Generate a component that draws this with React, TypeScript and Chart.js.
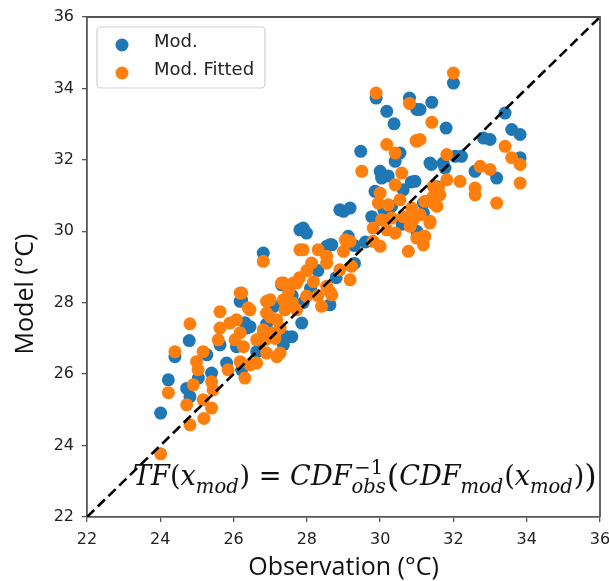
import React, { useEffect, useRef } from "react";
import { Chart, registerables } from "chart.js";

Chart.register(...registerables);

// Observation vs raw model temperatures (°C)
const modObs = [
  24.01, 24.22, 24.40, 24.79, 24.72, 24.81, 25.04, 25.40, 25.27, 25.63,
  25.81, 26.08, 26.22, 26.31, 26.72, 26.63, 26.18, 26.45, 26.81, 27.45,
  27.81, 27.90, 27.99, 26.22, 26.36, 27.86, 27.59, 27.36, 28.63, 28.63,
  28.54, 28.68, 29.13, 29.00, 29.18, 29.47, 29.89, 30.80, 31.00, 30.18,
  30.38, 30.54, 30.41, 30.00, 30.04, 30.22, 30.95, 30.85, 30.63, 31.40,
  31.72, 29.86, 30.31, 29.77, 31.18, 31.55, 32.00, 31.41, 31.80, 33.41,
  33.59, 33.82, 32.82, 33.00, 33.82, 32.59, 33.18, 32.22, 32.05, 31.36,
  31.77, 31.09, 31.18, 28.10, 27.90, 28.30, 28.80, 29.30, 29.60, 30.60,
  31.00, 30.10, 29.30, 27.31, 27.60, 26.90, 27.10, 28.90,
];
const modVal = [
  24.91, 25.84, 26.49, 26.94, 25.60, 25.37, 25.89, 26.03, 26.54, 26.82,
  26.31, 26.77, 26.12, 27.44, 26.68, 26.63, 28.04, 27.33, 29.39, 27.05,
  30.04, 30.09, 29.95, 28.08, 27.29, 27.43, 27.05, 26.82, 27.94, 29.62,
  29.58, 29.62, 29.86, 30.56, 30.65, 32.24, 33.73, 33.73, 33.41, 33.36,
  33.01, 32.19, 31.96, 31.68, 31.49, 31.55, 31.40, 31.38, 31.16, 31.87,
  31.91, 31.12, 30.70, 30.41, 30.79, 31.25, 34.15, 33.61, 32.89, 33.31,
  32.85, 32.71, 32.61, 32.57, 32.06, 31.68, 31.49, 32.10, 32.10, 31.91,
  31.77, 33.41, 30.51, 28.40, 28.00, 28.90, 28.70, 29.10, 29.70, 30.20,
  30.00, 30.60, 29.60, 28.50, 28.20, 27.40, 27.90, 30.60,
];

// Observation vs quantile-mapped model temperatures (°C)
const fitObs = [
  24.01, 24.22, 24.40, 24.81, 24.72, 24.81, 25.19, 25.40, 24.90, 25.17,
  25.40, 25.44, 24.99, 25.03, 25.17, 25.63, 25.58, 25.85, 25.90, 26.04,
  26.18, 26.31, 26.45, 26.18, 26.63, 26.81, 26.86, 27.04, 25.63, 26.18,
  26.40, 26.81, 27.31, 27.63, 27.81, 27.00, 27.18, 27.90, 29.18, 29.00,
  28.31, 28.13, 28.54, 28.90, 29.22, 27.36, 27.72, 28.18, 28.54, 27.99,
  27.36, 28.63, 26.22, 26.90, 26.45, 26.08, 26.90, 27.18, 27.72, 26.81,
  27.27, 27.13, 26.63, 26.27, 26.90, 27.27, 30.18, 31.00, 30.41, 29.50,
  30.59, 30.41, 30.00, 29.95, 30.22, 30.54, 30.04, 30.31, 30.63, 30.90,
  31.09, 30.86, 31.22, 31.45, 31.63, 31.59, 29.81, 30.18, 30.41, 30.82,
  31.00, 31.18, 30.77, 31.36, 29.81, 30.00, 29.05, 28.54, 32.00, 31.41,
  33.41, 33.59, 33.82, 33.82, 32.73, 33.00, 32.59, 32.59, 33.18, 31.82,
  31.09, 31.82, 32.18, 31.45, 31.45, 31.55, 31.36, 31.22, 31.18, 29.89,
  30.80, 30.98, 29.18, 28.68, 27.50, 27.60, 27.80, 28.00, 28.30, 28.40,
  27.40, 27.00,
];
const fitVal = [
  23.77, 25.48, 26.63, 27.41, 25.14, 24.58, 24.76, 25.05, 25.70, 25.28,
  25.79, 25.56, 26.35, 26.12, 26.63, 27.29, 26.96, 26.12, 27.43, 26.96,
  26.35, 25.89, 26.26, 27.16, 26.31, 27.24, 26.96, 27.15, 27.75, 28.27,
  27.85, 29.16, 28.55, 28.55, 29.48, 28.08, 26.49, 29.48, 29.72, 29.44,
  29.48, 29.11, 29.11, 28.92, 29.02, 28.55, 28.55, 28.59, 28.46, 28.18,
  28.08, 28.31, 28.27, 28.04, 27.80, 27.52, 27.71, 27.52, 27.80, 27.15,
  27.29, 27.00, 26.96, 26.77, 26.59, 26.59, 32.43, 32.52, 32.19, 31.68,
  31.63, 31.30, 31.07, 30.79, 30.74, 30.88, 30.32, 30.37, 30.41, 30.32,
  30.46, 30.65, 30.84, 30.79, 31.02, 31.21, 30.09, 30.04, 29.95, 30.14,
  29.81, 29.86, 29.44, 30.28, 29.72, 29.58, 29.76, 29.30, 34.43, 33.05,
  32.38, 32.06, 31.87, 31.35, 31.82, 31.73, 31.21, 31.02, 30.79, 32.15,
  32.57, 31.44, 31.40, 31.26, 30.98, 30.70, 30.23, 29.86, 29.62, 33.87,
  33.58, 32.54, 28.64, 28.22, 28.30, 28.00, 28.70, 28.90, 28.20, 27.90,
  27.80, 27.60,
];

// 1:1 reference line
const identityLine = [22, 36];

const axisMin = 22;
const axisMax = 36;
const axisStep = 2;

const seriesNames = ["Mod.", "Mod. Fitted"];
const seriesColors = ["#1f77b4", "#ff7f0e"];

const xTitle = "Observation (°C)";
const yTitle = "Model (°C)";

const toPoints = (xs: number[], ys: number[]) => xs.map((x, i) => ({ x, y: ys[i] }));

// Transfer-function formula drawn inside the axes
type Part = { t: string; it: boolean; sub?: boolean; sup?: string; big?: boolean };
const formulaParts: Part[] = [
  { t: "TF", it: true },
  { t: "(", it: false },
  { t: "x", it: true },
  { t: "mod", it: true, sub: true },
  { t: ")", it: false },
  { t: " = ", it: false },
  { t: "CDF", it: true },
  { t: "obs", it: true, sub: true, sup: "−1" },
  { t: "(", it: false, big: true },
  { t: "CDF", it: true },
  { t: "mod", it: true, sub: true },
  { t: "(", it: false },
  { t: "x", it: true },
  { t: "mod", it: true, sub: true },
  { t: ")", it: false },
  { t: ")", it: false, big: true },
];

const FORMULA_FONT = "'DejaVu Serif', 'Liberation Serif', serif";

function layoutFormula(ctx: CanvasRenderingContext2D, S: number, draw: boolean, x0: number, base: number) {
  let x = x0;
  for (const p of formulaParts) {
    const size = p.sub ? S * 0.72 : p.big ? S * 1.18 : S;
    ctx.font = `${p.it ? "italic " : ""}${size}px ${FORMULA_FONT}`;
    const w = ctx.measureText(p.t).width;
    let adv = w;
    const dy = p.sub ? S * 0.3 : p.big ? S * 0.06 : 0;
    if (draw) ctx.fillText(p.t, x, base + dy);
    if (p.sup) {
      ctx.font = `${S * 0.72}px ${FORMULA_FONT}`;
      const ws = ctx.measureText(p.sup).width;
      if (draw) ctx.fillText(p.sup, x + (w - ws) / 2, base - S * 0.42);
      adv = Math.max(w, ws);
    }
    x += adv + (p.sub ? S * 0.03 : 0);
  }
  return x - x0;
}

const decorPlugin = {
  id: "decor",
  afterDatasetsDraw(chart: any) {
    const { ctx, chartArea } = chart;
    const { left, right, top, bottom } = chartArea;
    ctx.save();

    // top and right spines
    ctx.strokeStyle = "#555";
    ctx.lineWidth = 1.8;
    ctx.beginPath();
    ctx.moveTo(left, top);
    ctx.lineTo(right, top);
    ctx.lineTo(right, bottom);
    ctx.stroke();

    // legend box
    const lx = left + 10;
    const ly = top + 10;
    const lw = 168;
    const lh = 61;
    ctx.fillStyle = "rgba(255,255,255,0.85)";
    ctx.strokeStyle = "#d0d0d0";
    ctx.lineWidth = 1.2;
    ctx.beginPath();
    ctx.roundRect(lx, ly, lw, lh, 4);
    ctx.fill();
    ctx.stroke();
    ctx.font = "18px 'DejaVu Sans', sans-serif";
    ctx.textBaseline = "middle";
    ctx.textAlign = "left";
    seriesNames.forEach((name, i) => {
      const cy = ly + 17 + i * 28;
      ctx.fillStyle = seriesColors[i];
      ctx.beginPath();
      ctx.arc(lx + 25, cy + 1, 6.5, 0, Math.PI * 2);
      ctx.fill();
      ctx.fillStyle = "#222";
      ctx.fillText(name, lx + 57, cy - 2);
    });

    // formula
    ctx.fillStyle = "#111";
    ctx.textBaseline = "alphabetic";
    const targetW = 464;
    const w0 = layoutFormula(ctx, 26, false, 0, 0);
    const S = (26 * targetW) / w0;
    layoutFormula(ctx, S, true, left + 46, bottom - 32);

    // axis titles
    ctx.fillStyle = "#111";
    ctx.font = "25px 'Open Sans', sans-serif";
    ctx.textAlign = "center";
    ctx.textBaseline = "middle";
    ctx.fillText(xTitle, (left + right) / 2, bottom + 51);
    ctx.save();
    ctx.translate(26, 294);
    ctx.rotate(-Math.PI / 2);
    ctx.fillText(yTitle, 0, 0);
    ctx.restore();

    ctx.restore();
  },
};

export default function App() {
  const ref = useRef<HTMLCanvasElement>(null);

  useEffect(() => {
    document.body.style.margin = "0";
    const canvas = ref.current;
    if (!canvas) return;

    const tickFont = { family: "'DejaVu Sans', sans-serif", size: 16 };
    const axisCommon = {
      type: "linear" as const,
      min: axisMin,
      max: axisMax,
      ticks: { stepSize: axisStep, color: "#222", font: tickFont, padding: 8 },
      grid: { display: true, drawOnChartArea: false, drawTicks: true, tickLength: 5, color: "#555", lineWidth: 1.3 },
      border: { display: true, color: "#555", width: 1.8 },
      title: { display: false },
    };

    const chart = new Chart(canvas, {
      type: "scatter",
      data: {
        datasets: [
          {
            label: seriesNames[0],
            data: toPoints(modObs, modVal),
            backgroundColor: seriesColors[0],
            pointRadius: 6.5,
            pointBorderWidth: 0,
            order: 2,
          },
          {
            label: seriesNames[1],
            data: toPoints(fitObs, fitVal),
            backgroundColor: seriesColors[1],
            pointRadius: 6.5,
            pointBorderWidth: 0,
            order: 1,
          },
          {
            type: "line",
            label: "1:1",
            data: toPoints(identityLine, identityLine),
            borderColor: "#000",
            borderWidth: 2.6,
            borderDash: [10, 5],
            pointRadius: 0,
            fill: false,
            order: 0,
          } as any,
        ],
      },
      options: {
        responsive: false,
        animation: false,
        events: [],
        layout: { padding: { top: 17, right: 9, left: 0, bottom: 0 } },
        plugins: { legend: { display: false }, tooltip: { enabled: false } },
        scales: {
          x: {
            ...axisCommon,
            position: "bottom",
            afterFit: (s: any) => {
              s.height = 64;
              s.paddingLeft = 0;
              s.paddingRight = 0;
            },
          },
          y: {
            ...axisCommon,
            position: "left",
            afterFit: (s: any) => {
              s.width = 87;
              s.paddingTop = 0;
              s.paddingBottom = 0;
            },
          },
        },
      } as any,
      plugins: [decorPlugin],
    });

    return () => chart.destroy();
  }, []);

  return (
    <div style={{ position: "fixed", left: 0, top: 0, width: 609, height: 581, background: "#fff" }}>
      <canvas ref={ref} width={609} height={581} style={{ display: "block" }} />
    </div>
  );
}
